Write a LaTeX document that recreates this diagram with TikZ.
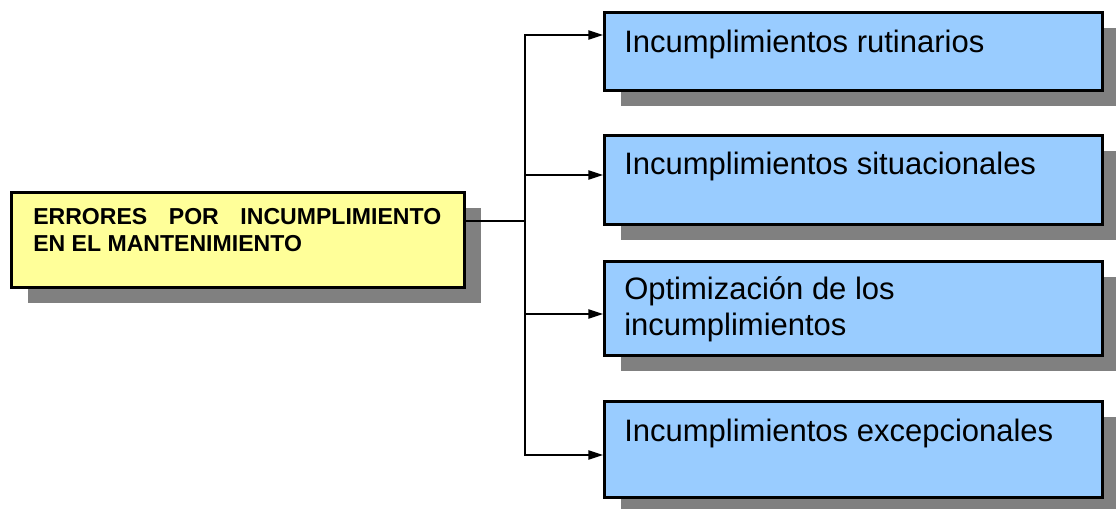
\documentclass[tikz,border=0pt]{standalone}
\usepackage{fontspec}
\setmainfont{Liberation Sans}
\usetikzlibrary{arrows.meta,shadows}

\definecolor{boxblue}{HTML}{99CCFF}
\definecolor{boxyellow}{HTML}{FFFF99}
\definecolor{shadowgray}{HTML}{808080}

\tikzset{
  panel/.style={draw=black, line width=2.4pt, rectangle, inner sep=0pt,
    anchor=north west, minimum width=373.5pt,
    drop shadow={shadow xshift=12pt, shadow yshift=-11.5pt,
      fill=shadowgray, opacity=1}},
  bluepanel/.style={panel, fill=boxblue},
  yellowpanel/.style={panel, fill=boxyellow, minimum width=339.75pt},
  % multi-line nodes: the base anchor sits on the last line
  bluetext/.style={inner sep=0pt, anchor=base west, align=left,
    font=\fontsize{23.25pt}{26.6pt}\selectfont},
  yellowtext/.style={inner sep=0pt, anchor=base west, align=left,
    font=\fontsize{17.3pt}{20.2pt}\selectfont\bfseries},
  link/.style={draw=black, line width=1pt},
  arrowlink/.style={link, -{Triangle[length=11pt,width=7pt]}}
}

\begin{document}
\begin{tikzpicture}[x=0.75pt, y=-0.75pt]
  \useasboundingbox (0,0) rectangle (1116,508);

  % main box
  \node[yellowpanel, minimum height=71.25pt] (main) at (10,191) {};
  \node[yellowtext] (maintext) at (33,251)
    {\makebox[306pt][s]{ERRORES POR INCUMPLIMIENTO}\\EN EL MANTENIMIENTO};

  % the four kinds
  \node[bluepanel, minimum height=58.5pt] (b1) at (603,11) {};
  \node[bluepanel, minimum height=66.75pt] (b2) at (603,134) {};
  \node[bluepanel, minimum height=70.5pt] (b3) at (603,260) {};
  \node[bluepanel, minimum height=72pt] (b4) at (603,400) {};

  \node[bluetext] (t1) at (624,52) {Incumplimientos rutinarios};
  \node[bluetext] (t2) at (624,174) {Incumplimientos situacionales};
  \node[bluetext] (t3) at (624,335) {Optimización de los\\incumplimientos};
  \node[bluetext] (t4) at (624,441) {Incumplimientos excepcionales};

  % branching connector
  \coordinate (hub) at (525,221);
  \coordinate (r1) at (525,35);
  \coordinate (r2) at (525,175);
  \coordinate (r3) at (525,314);
  \coordinate (r4) at (525,455);

  \draw[link] (main.east |- hub) -- (hub);
  \draw[arrowlink] (hub) |- (b1.west |- r1);
  \draw[arrowlink] (hub) |- (b2.west |- r2);
  \draw[arrowlink] (hub) |- (b3.west |- r3);
  \draw[arrowlink] (hub) |- (b4.west |- r4);
\end{tikzpicture}
\end{document}
